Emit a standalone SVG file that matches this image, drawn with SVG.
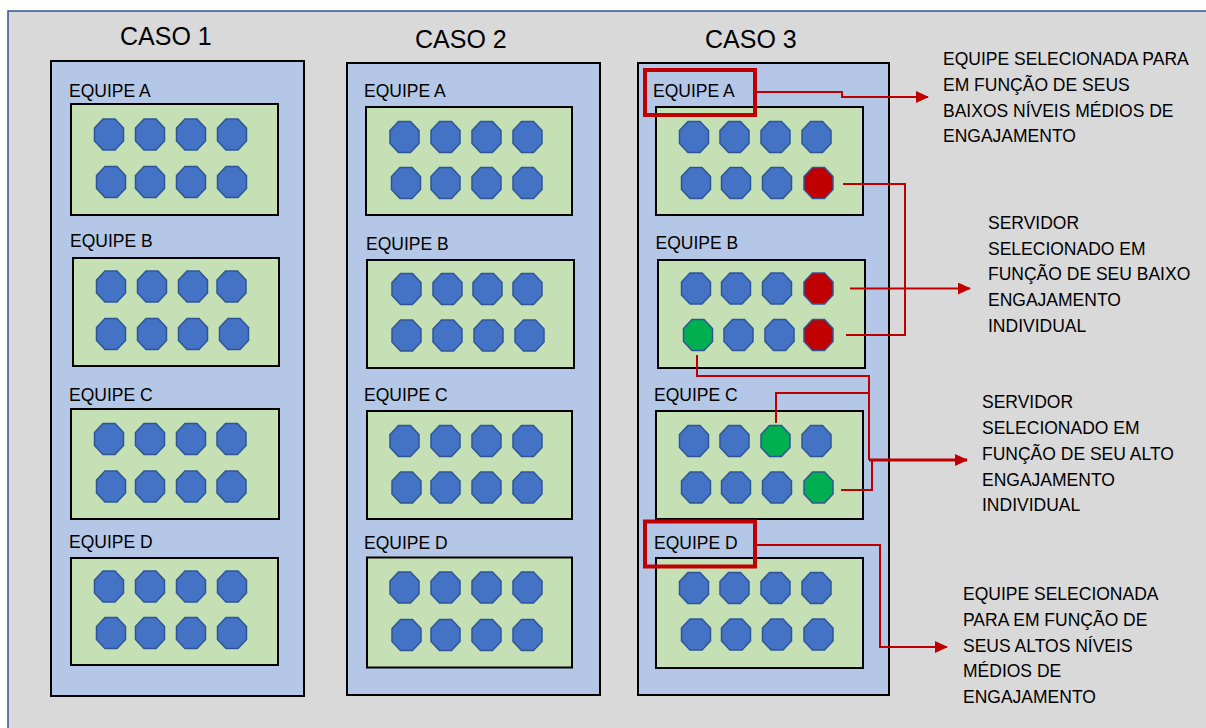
<svg xmlns="http://www.w3.org/2000/svg" xmlns:xlink="http://www.w3.org/1999/xlink" width="1206" height="728" viewBox="0 0 1206 728">
  <style>
    .frame { fill: #d9d9d9; stroke: #2f5597; stroke-width: 1.5; }
    .panel { fill: #b4c7e7; stroke: #000; stroke-width: 2; }
    .team { fill: #c5e0b4; stroke: #000; stroke-width: 2; }
    .oct { stroke: #2f5597; stroke-width: 1.5; }
    .blue { fill: #4472c4; }
    .red { fill: #c00000; }
    .green { fill: #00b050; }
    .mark { fill: none; stroke: #c00000; stroke-width: 4; }
    .wire { fill: none; stroke: #c00000; stroke-width: 2; }
    .wire-bold { fill: none; stroke: #c00000; stroke-width: 3; }
    text { font-family: "Liberation Sans", Arial, sans-serif; fill: #000; }
    .case { font-size: 25px; }
    .lbl { font-size: 17.5px; }
    .note { font-size: 17.5px; }
  </style>
  <defs>
    <polygon id="oct" points="-6,-15.5 6,-15.5 14.5,-6.5 14.5,6.5 6,15.5 -6,15.5 -14.5,6.5 -14.5,-6.5"/>
    <marker id="arrow" markerUnits="userSpaceOnUse" markerWidth="13" markerHeight="12" refX="12" refY="6" orient="auto">
      <path d="M0,0 L13,6 L0,12 Z" fill="#c00000"/>
    </marker>
  </defs>

  <!-- background frame (runs past the right and bottom edges) -->
  <rect class="frame" x="8" y="11" width="1300" height="800"/>

  <!-- case headings -->
  <text class="case" x="120" y="45">CASO 1</text>
  <text class="case" x="415" y="48">CASO 2</text>
  <text class="case" x="705" y="48">CASO 3</text>

  <!-- CASO 1 -->
  <g id="caso1">
    <rect class="panel" x="51" y="61" width="253" height="635"/>
    <g id="c1-equipe-a">
      <text class="lbl" x="69" y="97">EQUIPE A</text>
      <rect class="team" x="71" y="104" width="207" height="111"/>
      <g class="oct blue">
        <use xlink:href="#oct" x="109" y="134.5"/><use xlink:href="#oct" x="150" y="134.5"/><use xlink:href="#oct" x="191" y="134.5"/><use xlink:href="#oct" x="232" y="134.5"/>
        <use xlink:href="#oct" x="111" y="182"/><use xlink:href="#oct" x="150" y="182"/><use xlink:href="#oct" x="191" y="182"/><use xlink:href="#oct" x="232" y="182"/>
      </g>
    </g>
    <g id="c1-equipe-b">
      <text class="lbl" x="70" y="247">EQUIPE B</text>
      <rect class="team" x="73" y="258" width="206" height="108"/>
      <g class="oct blue">
        <use xlink:href="#oct" x="111" y="286.5"/><use xlink:href="#oct" x="152" y="286.5"/><use xlink:href="#oct" x="193" y="286.5"/><use xlink:href="#oct" x="231.5" y="286.5"/>
        <use xlink:href="#oct" x="111" y="334"/><use xlink:href="#oct" x="152" y="334"/><use xlink:href="#oct" x="193" y="334"/><use xlink:href="#oct" x="234" y="334"/>
      </g>
    </g>
    <g id="c1-equipe-c">
      <text class="lbl" x="69" y="400.5">EQUIPE C</text>
      <rect class="team" x="71" y="409" width="208" height="110"/>
      <g class="oct blue">
        <use xlink:href="#oct" x="109" y="439"/><use xlink:href="#oct" x="150" y="439"/><use xlink:href="#oct" x="191" y="439"/><use xlink:href="#oct" x="231.5" y="439"/>
        <use xlink:href="#oct" x="111" y="486.5"/><use xlink:href="#oct" x="150" y="486.5"/><use xlink:href="#oct" x="191" y="486.5"/><use xlink:href="#oct" x="231.5" y="486.5"/>
      </g>
    </g>
    <g id="c1-equipe-d">
      <text class="lbl" x="69" y="548">EQUIPE D</text>
      <rect class="team" x="71" y="558" width="207" height="107"/>
      <g class="oct blue">
        <use xlink:href="#oct" x="109" y="586.5"/><use xlink:href="#oct" x="150" y="586.5"/><use xlink:href="#oct" x="191" y="586.5"/><use xlink:href="#oct" x="232" y="586.5"/>
        <use xlink:href="#oct" x="111" y="633"/><use xlink:href="#oct" x="150" y="633"/><use xlink:href="#oct" x="191" y="633"/><use xlink:href="#oct" x="232" y="633"/>
      </g>
    </g>
  </g>

  <!-- CASO 2 -->
  <g id="caso2">
    <rect class="panel" x="347" y="63" width="253" height="632"/>
    <g id="c2-equipe-a">
      <text class="lbl" x="364" y="97">EQUIPE A</text>
      <rect class="team" x="366" y="107" width="206" height="108"/>
      <g class="oct blue">
        <use xlink:href="#oct" x="404.5" y="137"/><use xlink:href="#oct" x="445.5" y="137"/><use xlink:href="#oct" x="486.5" y="137"/><use xlink:href="#oct" x="527.5" y="137"/>
        <use xlink:href="#oct" x="406" y="183"/><use xlink:href="#oct" x="445.5" y="183"/><use xlink:href="#oct" x="486.5" y="183"/><use xlink:href="#oct" x="527.5" y="183"/>
      </g>
    </g>
    <g id="c2-equipe-b">
      <text class="lbl" x="366" y="250">EQUIPE B</text>
      <rect class="team" x="367" y="260" width="207" height="108"/>
      <g class="oct blue">
        <use xlink:href="#oct" x="406.5" y="289"/><use xlink:href="#oct" x="447.5" y="289"/><use xlink:href="#oct" x="487.5" y="289"/><use xlink:href="#oct" x="527.5" y="289"/>
        <use xlink:href="#oct" x="406.5" y="335.5"/><use xlink:href="#oct" x="447.5" y="335.5"/><use xlink:href="#oct" x="488.5" y="335.5"/><use xlink:href="#oct" x="529.5" y="335.5"/>
      </g>
    </g>
    <g id="c2-equipe-c">
      <text class="lbl" x="364" y="401">EQUIPE C</text>
      <rect class="team" x="367" y="411" width="205" height="108"/>
      <g class="oct blue">
        <use xlink:href="#oct" x="404.5" y="441"/><use xlink:href="#oct" x="445.5" y="441"/><use xlink:href="#oct" x="486.5" y="441"/><use xlink:href="#oct" x="527.5" y="441"/>
        <use xlink:href="#oct" x="406.5" y="487.5"/><use xlink:href="#oct" x="445.5" y="487.5"/><use xlink:href="#oct" x="486.5" y="487.5"/><use xlink:href="#oct" x="527.5" y="487.5"/>
      </g>
    </g>
    <g id="c2-equipe-d">
      <text class="lbl" x="364" y="549">EQUIPE D</text>
      <rect class="team" x="367" y="557.5" width="205" height="110"/>
      <g class="oct blue">
        <use xlink:href="#oct" x="404.5" y="587.5"/><use xlink:href="#oct" x="445.5" y="587.5"/><use xlink:href="#oct" x="486.5" y="587.5"/><use xlink:href="#oct" x="527.5" y="587.5"/>
        <use xlink:href="#oct" x="406.5" y="635"/><use xlink:href="#oct" x="445.5" y="635"/><use xlink:href="#oct" x="486.5" y="635"/><use xlink:href="#oct" x="527.5" y="635"/>
      </g>
    </g>
  </g>

  <!-- CASO 3 -->
  <g id="caso3">
    <rect class="panel" x="638" y="63" width="251" height="632"/>
    <g id="c3-equipe-a">
      <text class="lbl" x="653" y="97">EQUIPE A</text>
      <rect class="team" x="656" y="107" width="207" height="108"/>
      <g class="oct">
        <use class="blue" xlink:href="#oct" x="694" y="137"/><use class="blue" xlink:href="#oct" x="734.5" y="137"/><use class="blue" xlink:href="#oct" x="775.5" y="137"/><use class="blue" xlink:href="#oct" x="816.5" y="137"/>
        <use class="blue" xlink:href="#oct" x="696" y="183"/><use class="blue" xlink:href="#oct" x="736" y="183"/><use class="blue" xlink:href="#oct" x="777" y="183"/><use class="red" xlink:href="#oct" x="818.5" y="183"/>
      </g>
    </g>
    <g id="c3-equipe-b">
      <text class="lbl" x="655.5" y="249">EQUIPE B</text>
      <rect class="team" x="658" y="260" width="207" height="108"/>
      <g class="oct">
        <use class="blue" xlink:href="#oct" x="696" y="288.5"/><use class="blue" xlink:href="#oct" x="736" y="288.5"/><use class="blue" xlink:href="#oct" x="777" y="288.5"/><use class="red" xlink:href="#oct" x="818.5" y="288.5"/>
        <use class="green" xlink:href="#oct" x="698" y="335"/><use class="blue" xlink:href="#oct" x="738.5" y="335"/><use class="blue" xlink:href="#oct" x="779.5" y="335"/><use class="red" xlink:href="#oct" x="818.5" y="335"/>
      </g>
    </g>
    <g id="c3-equipe-c">
      <text class="lbl" x="654" y="401">EQUIPE C</text>
      <rect class="team" x="656" y="411" width="207" height="108"/>
      <g class="oct">
        <use class="blue" xlink:href="#oct" x="694" y="441"/><use class="blue" xlink:href="#oct" x="734.5" y="441"/><use class="green" xlink:href="#oct" x="775.5" y="441"/><use class="blue" xlink:href="#oct" x="816.5" y="441"/>
        <use class="blue" xlink:href="#oct" x="696" y="487.5"/><use class="blue" xlink:href="#oct" x="736" y="487.5"/><use class="blue" xlink:href="#oct" x="777" y="487.5"/><use class="green" xlink:href="#oct" x="818.5" y="487.5"/>
      </g>
    </g>
    <g id="c3-equipe-d">
      <text class="lbl" x="654" y="549">EQUIPE D</text>
      <rect class="team" x="656" y="558" width="207" height="110"/>
      <g class="oct blue">
        <use xlink:href="#oct" x="694" y="588"/><use xlink:href="#oct" x="734.5" y="588"/><use xlink:href="#oct" x="775.5" y="588"/><use xlink:href="#oct" x="816.5" y="588"/>
        <use xlink:href="#oct" x="696" y="634.5"/><use xlink:href="#oct" x="736" y="634.5"/><use xlink:href="#oct" x="777" y="634.5"/><use xlink:href="#oct" x="818.5" y="634.5"/>
      </g>
    </g>
    <!-- highlight boxes around selected team labels -->
    <rect id="mark-a" class="mark" x="645" y="70" width="110" height="45"/>
    <rect id="mark-d" class="mark" x="645" y="521.5" width="110" height="45"/>
  </g>

  <!-- connectors -->
  <g id="connectors">
    <polyline class="wire" points="755,92 842,92 842,97 928,97" marker-end="url(#arrow)"/>
    <polyline class="wire" points="843,184 905,184 905,335 846,335"/>
    <line class="wire" x1="850" y1="288.5" x2="970" y2="288.5" marker-end="url(#arrow)"/>
    <polyline class="wire" points="697,355 697,376 869,376 869,460"/>
    <polyline class="wire" points="776,423 776,393 869,393"/>
    <polyline class="wire" points="841,490 872,490 872,460"/>
    <line class="wire-bold" x1="869" y1="460" x2="967" y2="460" marker-end="url(#arrow)"/>
    <polyline class="wire" points="755,545 880,545 880,647 947,647" marker-end="url(#arrow)"/>
  </g>

  <!-- annotations -->
  <g id="note-1">
    <text class="note" x="943" y="65">EQUIPE SELECIONADA PARA</text>
    <text class="note" x="943" y="91">EM FUNÇÃO DE SEUS</text>
    <text class="note" x="943" y="117">BAIXOS NÍVEIS MÉDIOS DE</text>
    <text class="note" x="943" y="142">ENGAJAMENTO</text>
  </g>
  <g id="note-2">
    <text class="note" x="988" y="229">SERVIDOR</text>
    <text class="note" x="988" y="254.5">SELECIONADO EM</text>
    <text class="note" x="988" y="280">FUNÇÃO DE SEU BAIXO</text>
    <text class="note" x="988" y="306">ENGAJAMENTO</text>
    <text class="note" x="988" y="331.5">INDIVIDUAL</text>
  </g>
  <g id="note-3">
    <text class="note" x="982" y="408">SERVIDOR</text>
    <text class="note" x="982" y="434">SELECIONADO EM</text>
    <text class="note" x="982" y="460">FUNÇÃO DE SEU ALTO</text>
    <text class="note" x="982" y="485.5">ENGAJAMENTO</text>
    <text class="note" x="982" y="511">INDIVIDUAL</text>
  </g>
  <g id="note-4">
    <text class="note" x="963" y="600">EQUIPE SELECIONADA</text>
    <text class="note" x="963" y="626">PARA EM FUNÇÃO DE</text>
    <text class="note" x="963" y="651.5">SEUS ALTOS NÍVEIS</text>
    <text class="note" x="963" y="677">MÉDIOS DE</text>
    <text class="note" x="963" y="702.5">ENGAJAMENTO</text>
  </g>
</svg>
